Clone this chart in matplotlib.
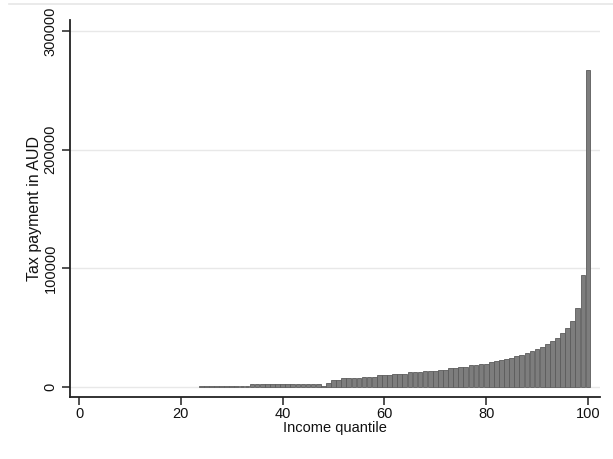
import matplotlib
matplotlib.use("Agg")
import matplotlib.pyplot as plt
from matplotlib.lines import Line2D

plt.rcParams['font.family'] = ['Liberation Sans', 'DejaVu Sans']

# Income quantiles 1..100
quantiles = list(range(1, 101))
# Tax payment (AUD) per quantile
tax = ([0] * 23 +
       [1000] * 10 +                       # 24-33
       [2200] * 14 +                       # 34-47
       [700, 2700] +                       # 48-49
       [6000, 6000] +                      # 50-51
       [7300] * 4 +                        # 52-55
       [8600] * 3 +                        # 56-58
       [9800] * 3 +                        # 59-61
       [10800] * 3 +                       # 62-64
       [12000] * 3 +                       # 65-67
       [13200] * 3 +                       # 68-70
       [14500, 14500, 15700, 15700, 16800, 16800, 18100, 18100,
        19500, 19500] +                    # 71-80
       [20700, 21800, 22100, 23200, 24500, 25600, 26800, 28200,
        30000, 31500] +                    # 81-90
       [33700, 36000, 38300, 40800, 45000, 49200, 55700, 66600,
        94200, 267100])                    # 91-100

x_ticks = [0, 20, 40, 60, 80, 100]
y_ticks = [0, 100000, 200000, 300000]

W, H = 613, 459
fig = plt.figure(figsize=(W / 100, H / 100), dpi=100)
ax = fig.add_axes([70 / W, 1 - 397 / H, (600 - 70) / W, (397 - 20) / H])

xs = [q for q, t in zip(quantiles, tax) if t > 0]
ys = [t for t in tax if t > 0]
ax.bar(xs, ys, width=0.92, color='#7d7d7d', edgecolor='#5c5c5c',
       linewidth=0.6, zorder=3)

ax.set_xlim(-1.77, 102.36)
ax.set_ylim(-8687, 309270)
ax.set_xticks(x_ticks)
ax.set_yticks(y_ticks)
ax.set_xticklabels([str(v) for v in x_ticks])
ax.set_yticklabels([str(v) for v in y_ticks], rotation=90, va='center')

ax.grid(axis='y', color='#e8e8e8', linewidth=1.0, zorder=0)
ax.set_axisbelow(True)

for s in ['top', 'right']:
    ax.spines[s].set_visible(False)
for s in ['left', 'bottom']:
    ax.spines[s].set_linewidth(1.3)
    ax.spines[s].set_color('#222222')

ax.tick_params(axis='both', length=6, width=1.1, color='#222222',
               labelsize=10.5, labelcolor='#111111')
ax.tick_params(axis='y', pad=3)
ax.tick_params(axis='x', pad=1.5)

ax.set_xlabel('Income quantile', fontsize=10.5, color='#111111', labelpad=0)
ax.set_ylabel('Tax payment in AUD', fontsize=11.5, color='#111111', labelpad=1)

fig.add_artist(Line2D([0.015, 1.0], [1 - 3.5 / H, 1 - 3.5 / H],
                      color='#e6e6e6', linewidth=1.2,
                      transform=fig.transFigure))

fig.savefig('out.png', dpi=100, facecolor='white')
